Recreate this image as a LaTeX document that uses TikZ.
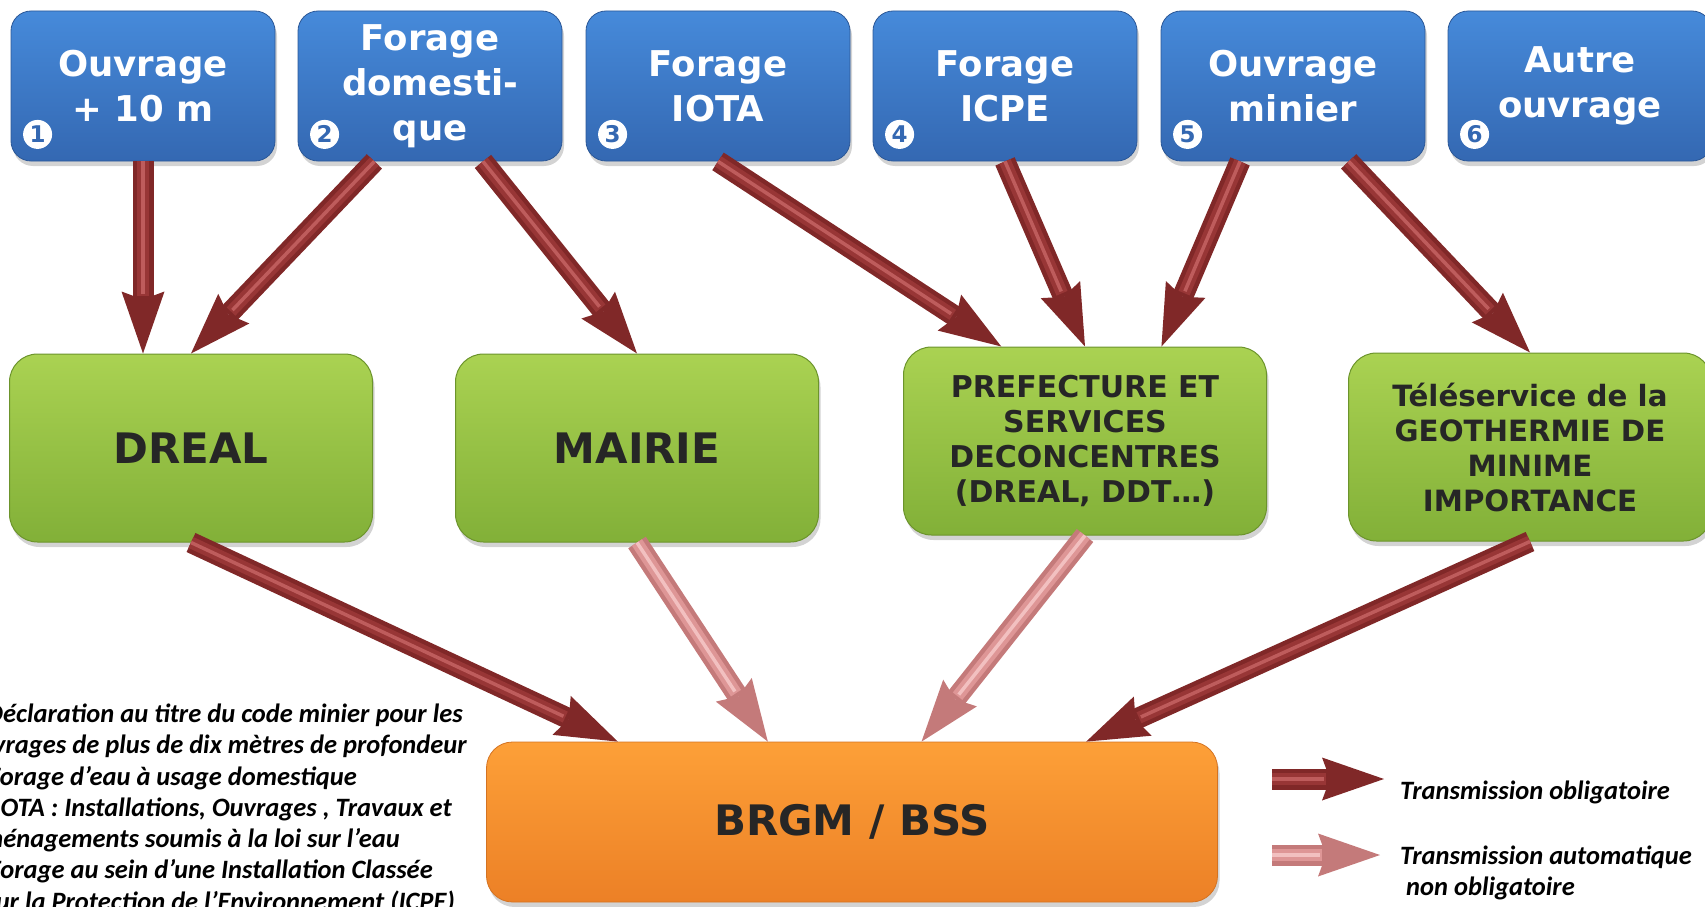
\documentclass[tikz,border=0pt]{standalone}
\usepackage{fontspec}
\setmainfont{Carlito}
\setsansfont{DejaVu Sans}
\usetikzlibrary{arrows.meta,calc,shadows}

\definecolor{bluetop}{RGB}{70,138,218}
\definecolor{bluebot}{RGB}{52,104,178}
\definecolor{greentop}{RGB}{170,210,82}
\definecolor{greenbot}{RGB}{130,176,56}
\definecolor{greenline}{RGB}{108,148,44}
\definecolor{orangetop}{RGB}{253,160,56}
\definecolor{orangebot}{RGB}{236,128,38}
\definecolor{darkflux}{RGB}{128,40,40}
\definecolor{darkfluxmid}{RGB}{152,54,54}
\definecolor{darkfluxhi}{RGB}{190,92,92}
\definecolor{pinkflux}{RGB}{196,122,122}
\definecolor{pinkfluxmid}{RGB}{222,150,150}
\definecolor{pinkfluxhi}{RGB}{242,192,192}
\definecolor{textgray}{RGB}{38,38,38}

\tikzset{
  ombre/.style={drop shadow={opacity=0.35,shadow xshift=2pt,shadow yshift=-5pt}},
  ouvrage/.style={ombre,rounded corners=20pt,minimum width=264pt,minimum height=150pt,
    top color=bluetop,bottom color=bluebot,draw=bluebot!85!black,line width=0.8pt,
    text=white,align=center,font=\sffamily\bfseries\fontsize{35.5}{45}\selectfont},
  service/.style={ombre,rounded corners=28pt,minimum width=363pt,minimum height=188pt,
    top color=greentop,bottom color=greenbot,draw=greenline,line width=1pt,
    text=textgray,align=center},
  numdot/.style={circle,fill=white,inner sep=0pt,minimum size=29pt,text=bluebot,
    font=\sffamily\bfseries\fontsize{23}{23}\selectfont},
  oblig/.style={darkflux,line width=21pt,
    -{Stealth[length=62pt,width=43pt,inset=8pt,line width=0pt 0]},
    postaction={draw=darkfluxmid,line width=12pt,shorten >=58pt,-},
    postaction={draw=darkfluxhi,line width=3.5pt,shorten >=60pt,-}},
  nonoblig/.style={pinkflux,line width=21pt,
    -{Stealth[length=62pt,width=43pt,inset=8pt,line width=0pt 0]},
    postaction={draw=pinkfluxmid,line width=12pt,shorten >=58pt,-},
    postaction={draw=pinkfluxhi,line width=3.5pt,shorten >=60pt,-}},
  legende/.style={font=\bfseries\itshape\fontsize{26.5}{31}\selectfont,inner sep=0pt},
}

\begin{document}
\begin{tikzpicture}[x=1pt,y=-1pt]
\clip[use as bounding box] (0,0) rectangle (1705,907);

% ouvrages
\node[ouvrage] (o1) at (143,86) {Ouvrage\\+ 10 m};
\node[ouvrage] (o2) at (430,86) {Forage\\domesti-\\que};
\node[ouvrage] (o3) at (718,86) {Forage\\IOTA};
\node[ouvrage] (o4) at (1005,86) {Forage\\ICPE};
\node[ouvrage] (o5) at (1293,86) {Ouvrage\\minier};
\node[ouvrage] (o6) at (1580,86) {Autre\\ouvrage};
\node[numdot] (n1) at ($(o1.south west)+(27,-27)$) {1};
\node[numdot] (n2) at ($(o2.south west)+(27,-27)$) {2};
\node[numdot] (n3) at ($(o3.south west)+(27,-27)$) {3};
\node[numdot] (n4) at ($(o4.south west)+(27,-27)$) {4};
\node[numdot] (n5) at ($(o5.south west)+(27,-27)$) {5};
\node[numdot] (n6) at ($(o6.south west)+(27,-27)$) {6};

% services
\node[service,font=\sffamily\bfseries\fontsize{42}{48}\selectfont] (dreal) at (191,448) {DREAL};
\node[service,font=\sffamily\bfseries\fontsize{42}{48}\selectfont] (mairie) at (637,448) {MAIRIE};
\node[service,font=\sffamily\bfseries\fontsize{30}{35}\selectfont] (pref) at (1085,441)
  {PREFECTURE ET\\SERVICES\\DECONCENTRES\\(DREAL, DDT…)};
\node[service,font=\sffamily\bfseries\fontsize{29.3}{35}\selectfont] (tele) at (1530,447)
  {Téléservice de la\\GEOTHERMIE DE\\MINIME\\IMPORTANCE};

% BSS
\node[ombre,rounded corners=26pt,minimum width=731pt,minimum height=160pt,
  top color=orangetop,bottom color=orangebot,draw=orangebot!90!black,line width=0.8pt,
  text=textgray,font=\sffamily\bfseries\fontsize{42}{48}\selectfont] (brgm) at (852,822) {BRGM / BSS};

% transmissions
\draw[oblig] (o1.south) -- (o1.south |- dreal.north);
\draw[oblig] ($(o2.south west)!0.29!(o2.south east)$) -- (dreal.north);
\draw[oblig] ($(o2.south west)!0.70!(o2.south east)$) -- (mairie.north);
\draw[oblig] (o3.south) -- ($(pref.north west)!0.27!(pref.north east)$);
\draw[oblig] (o4.south) -- (pref.north);
\draw[oblig] ($(o5.south west)!0.30!(o5.south east)$) -- ($(pref.north west)!0.71!(pref.north east)$);
\draw[oblig] ($(o5.south west)!0.71!(o5.south east)$) -- (tele.north);
\draw[oblig] (dreal.south) -- ($(brgm.north west)!0.18!(brgm.north east)$);
\draw[nonoblig] (mairie.south) -- ($(brgm.north west)!0.385!(brgm.north east)$);
\draw[nonoblig] (pref.south) -- ($(brgm.north west)!0.595!(brgm.north east)$);
\draw[oblig] (tele.south) -- ($(brgm.north west)!0.82!(brgm.north east)$);

% legende
\coordinate (l1a) at (1272,779);
\coordinate (l1b) at (1384,779);
\coordinate (l2a) at (1272,855);
\coordinate (l2b) at (1380,855);
\draw[oblig] (l1a) -- (l1b);
\draw[nonoblig] (l2a) -- (l2b);
\node[legende,anchor=base west] (t1) at (1400,799) {Transmission obligatoire};
\node[legende,anchor=base west,align=left] (t2) at (1400,895)
  {Transmission automatique\\\hspace*{6pt}non obligatoire};

% notes
\node[legende,anchor=base east] (r1) at (463,722) {Déclaration au titre du code minier pour les};
\node[legende,anchor=base east] (r2) at (467,753) {ouvrages de plus de dix mètres de profondeur};
\node[legende,anchor=base east] (r3) at (357,785) {Forage d’eau à usage domestique};
\node[legende,anchor=base east] (r4) at (452,816) {IOTA : Installations, Ouvrages , Travaux et};
\node[legende,anchor=base east] (r5) at (400,847) {Aménagements soumis à la loi sur l’eau};
\node[legende,anchor=base east] (r6) at (433,878) {Forage au sein d’une Installation Classée};
\node[legende,anchor=base east] (r7) at (455,910) {pour la Protection de l’Environnement (ICPE)};
\end{tikzpicture}
\end{document}
